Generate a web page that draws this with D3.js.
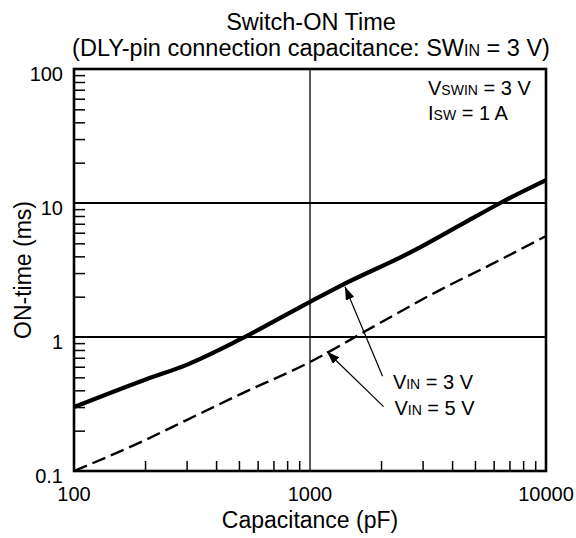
<!DOCTYPE html>
<html lang="en">
<head>
  <meta charset="UTF-8">
  <script src="https://cdn.jsdelivr.net/npm/d3@7"></script>
  <style>
    body { margin: 0; background: #fff; }
    text { font-family: "Liberation Sans", Arial, sans-serif; fill: #000; }
    .minor line { stroke: #000; stroke-width: 1.5px; }
    .minor path { display: none; }
  </style>
  <title>Switch-ON Time</title>
</head>
<body>
  <svg id="chart" width="576" height="538"></svg>
  <script>
    // data
    var cap3V = [100, 200, 300, 500, 1000, 1340, 2700, 4500, 6400, 10000];
    var time3V = [0.3, 0.48, 0.62, 0.95, 1.83, 2.4, 4.33, 7.1, 10.0, 14.8];
    var cap5V = [100, 200, 300, 500, 1000, 1850, 3550, 5800, 10000];
    var time5V = [0.1, 0.17, 0.24, 0.37, 0.65, 1.19, 2.24, 3.45, 5.67];

    var xTicks = [100, 1000, 10000];
    var xTickLabels = ["100", "1000", "10000"];
    var yTicks = [0.1, 1, 10, 100];
    var yTickLabels = ["0.1", "1", "10", "100"];

    var svg = d3.select("#chart");
    var margin = { left: 74, top: 69, right: 30, bottom: 67 };
    var width = 576 - margin.left - margin.right,
      height = 538 - margin.top - margin.bottom;

    var x = d3.scaleLog().domain([100, 10000]).range([0, width]);
    var y = d3.scaleLog().domain([0.1, 100]).range([height, 0]);

    var g = svg.append("g").attr("transform", "translate(" + margin.left + "," + margin.top + ")");

    // minor ticks (inside)
    var minorX = [], minorY = [];
    [100, 1000].forEach(function (d) { for (var k = 2; k <= 9; k++) minorX.push(d * k); });
    [0.1, 1, 10].forEach(function (d) { for (var k = 2; k <= 9; k++) minorY.push(d * k); });

    g.append("g").attr("class", "minor")
      .attr("transform", "translate(0," + height + ")")
      .call(d3.axisBottom(x).tickValues(minorX).tickSize(-10).tickFormat(""));
    g.append("g").attr("class", "minor")
      .call(d3.axisLeft(y).tickValues(minorY).tickSize(-11).tickFormat(""));

    // grid lines
    g.selectAll(".hgrid").data([1, 10]).enter().append("line")
      .attr("x1", 0).attr("x2", width)
      .attr("y1", d => y(d)).attr("y2", d => y(d))
      .attr("stroke", "#000").attr("stroke-width", 2.2);
    g.append("line")
      .attr("x1", x(1000)).attr("x2", x(1000))
      .attr("y1", 0).attr("y2", height)
      .attr("stroke", "#000").attr("stroke-width", 1.3);

    // frame
    g.append("rect")
      .attr("width", width).attr("height", height)
      .attr("fill", "none").attr("stroke", "#000").attr("stroke-width", 2.6);

    // tick labels
    g.selectAll(".xl").data(xTicks).enter().append("text")
      .attr("x", d => x(d)).attr("y", height + 30)
      .attr("text-anchor", "middle").attr("font-size", 20)
      .text((d, i) => xTickLabels[i]);
    g.selectAll(".yl").data(yTicks).enter().append("text")
      .attr("x", -11).attr("y", d => y(d) + 12)
      .attr("text-anchor", "end").attr("font-size", 20)
      .text((d, i) => yTickLabels[i]);

    // axis titles
    g.append("text")
      .attr("x", width / 2).attr("y", height + 57)
      .attr("text-anchor", "middle").attr("font-size", 23)
      .text("Capacitance (pF)");
    g.append("text")
      .attr("transform", "translate(-43," + (height / 2) + ") rotate(-90)")
      .attr("text-anchor", "middle").attr("font-size", 23)
      .text("ON-time (ms)");

    // title
    svg.append("text")
      .attr("x", 311).attr("y", 30)
      .attr("text-anchor", "middle").attr("font-size", 23.5)
      .text("Switch-ON Time");
    var t2 = svg.append("text")
      .attr("x", 311).attr("y", 56)
      .attr("text-anchor", "middle").attr("font-size", 23.5);
    t2.append("tspan").text("(DLY-pin connection capacitance: SW");
    t2.append("tspan").attr("font-size", 16).text("IN");
    t2.append("tspan").text(" = 3 V)");

    // curves
    var line = d3.line()
      .x(d => x(d[0])).y(d => y(d[1]))
      .curve(d3.curveMonotoneX);

    g.append("path")
      .datum(d3.zip(cap3V, time3V))
      .attr("d", line)
      .attr("fill", "none").attr("stroke", "#000").attr("stroke-width", 4.2);

    g.append("path")
      .datum(d3.zip(cap5V, time5V))
      .attr("d", line)
      .attr("fill", "none").attr("stroke", "#000").attr("stroke-width", 2.4)
      .attr("stroke-dasharray", "14,6");

    // conditions
    function subText(sel, px, py, main, sub, rest) {
      var t = sel.append("text").attr("x", px).attr("y", py).attr("font-size", 20);
      t.append("tspan").text(main);
      t.append("tspan").attr("font-size", 14).text(sub);
      t.append("tspan").text(rest);
      return t;
    }
    subText(svg, 428, 95, "V", "SWIN", " = 3 V");
    subText(svg, 428, 120, "I", "SW", " = 1 A");

    // annotation arrows
    svg.append("defs").append("marker")
      .attr("id", "arrow").attr("viewBox", "0 0 13 9")
      .attr("refX", 13).attr("refY", 4.5)
      .attr("markerWidth", 13).attr("markerHeight", 9)
      .attr("markerUnits", "userSpaceOnUse")
      .attr("orient", "auto")
      .append("path").attr("d", "M0,0 L13,4.5 L0,9 Z").attr("fill", "#000");

    var arrows = [
      { from: [2030, 0.51], to: [1407, 2.37] },
      { from: [2050, 0.302], to: [1178, 0.78] }
    ];
    g.selectAll(".arrow").data(arrows).enter().append("line")
      .attr("x1", d => x(d.from[0])).attr("y1", d => y(d.from[1]))
      .attr("x2", d => x(d.to[0])).attr("y2", d => y(d.to[1]))
      .attr("stroke", "#000").attr("stroke-width", 1.2)
      .attr("marker-end", "url(#arrow)");

    subText(g, x(2245), y(0.41), "V", "IN", " = 3 V");
    subText(g, x(2280), y(0.262), "V", "IN", " = 5 V");
  </script>
</body>
</html>
